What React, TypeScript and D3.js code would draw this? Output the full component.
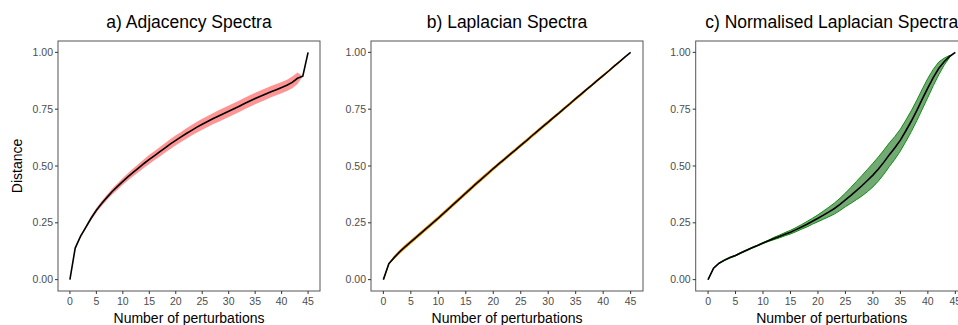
import React from 'react';
import * as d3 from 'd3';

// number of perturbations (x) shared by all three panels
const perturbations = d3.range(0, 46);
const xTicks = [0, 5, 10, 15, 20, 25, 30, 35, 40, 45];
const yTicks = [0, 0.25, 0.5, 0.75, 1];

// a) adjacency spectra: mean distance and half-width of the ribbon
const adjMean = [
  0, 0.139, 0.19, 0.23, 0.27, 0.305, 0.335, 0.362, 0.388, 0.41,
  0.432, 0.453, 0.473, 0.492, 0.511, 0.529, 0.546, 0.563, 0.58, 0.597,
  0.613, 0.628, 0.643, 0.657, 0.671, 0.684, 0.696, 0.708, 0.719, 0.73,
  0.741, 0.752, 0.763, 0.775, 0.786, 0.797, 0.807, 0.817, 0.827, 0.836,
  0.845, 0.855, 0.868, 0.886, 0.895, 1.0,
];
const adjSd = [
  0, 0, 0.005, 0.007, 0.009, 0.01, 0.011, 0.012, 0.013, 0.014,
  0.015, 0.016, 0.017, 0.018, 0.019, 0.02, 0.02, 0.021, 0.021, 0.022,
  0.022, 0.022, 0.023, 0.023, 0.024, 0.024, 0.024, 0.024, 0.025, 0.025,
  0.025, 0.025, 0.025, 0.025, 0.025, 0.025, 0.025, 0.025, 0.025, 0.025,
  0.025, 0.025, 0.026, 0.025, 0,
];

// b) laplacian spectra
const lapMean = [
  0, 0.07, 0.098, 0.123, 0.145, 0.166, 0.187, 0.208, 0.229, 0.25,
  0.271, 0.293, 0.315, 0.337, 0.359, 0.381, 0.403, 0.425, 0.446, 0.467,
  0.488, 0.509, 0.529, 0.55, 0.57, 0.591, 0.611, 0.632, 0.652, 0.673,
  0.693, 0.714, 0.734, 0.755, 0.775, 0.796, 0.816, 0.837, 0.857, 0.878,
  0.898, 0.918, 0.939, 0.959, 0.98, 1.0,
];
const lapSd = [
  0, 0, 0.006, 0.007, 0.007, 0.007, 0.007, 0.007, 0.007, 0.007,
  0.007, 0.007, 0.007, 0.007, 0.007, 0.007, 0.007, 0.007, 0.007, 0.007,
  0.006, 0.006, 0.006, 0.006, 0.006, 0.006, 0.006, 0.006, 0.006, 0.006,
  0.006, 0.005, 0.005, 0.005, 0.005, 0.005, 0.005, 0.004, 0.004, 0.004,
  0.004, 0.003, 0.003, 0.002, 0.001,
];

// c) normalised laplacian spectra
const normMean = [
  0, 0.05, 0.072, 0.086, 0.097, 0.106, 0.118, 0.129, 0.14, 0.15,
  0.161, 0.171, 0.181, 0.19, 0.2, 0.209, 0.22, 0.232, 0.244, 0.257,
  0.27, 0.284, 0.298, 0.313, 0.331, 0.351, 0.371, 0.392, 0.413, 0.436,
  0.46, 0.487, 0.517, 0.55, 0.58, 0.614, 0.655, 0.698, 0.745, 0.795,
  0.844, 0.89, 0.93, 0.96, 0.983, 1.0,
];
const normSd = [
  0, 0.001, 0.001, 0.002, 0.002, 0.002, 0.002, 0.002, 0.002, 0.002,
  0.002, 0.003, 0.005, 0.006, 0.007, 0.008, 0.009, 0.01, 0.012, 0.013,
  0.015, 0.018, 0.021, 0.024, 0.027, 0.03, 0.035, 0.04, 0.045, 0.049,
  0.052, 0.053, 0.053, 0.052, 0.05, 0.048, 0.047, 0.046, 0.045, 0.044,
  0.042, 0.036, 0.028, 0.015, 0.004,
];

const FONT = '"Liberation Sans", Arial, sans-serif';
const TOP = 41;
const BOTTOM = 291;

type Panel = {
  title: string;
  mean: number[];
  sd: number[];
  left: number;
  right: number;
  fill: string;
  fillOpacity: number;
  stroke: string;
  yTitle?: string;
};

const panels: Panel[] = [
  { title: 'a) Adjacency Spectra', mean: adjMean, sd: adjSd, left: 58, right: 320,
    fill: '#ff0000', fillOpacity: 0.42, stroke: 'none', yTitle: 'Distance' },
  { title: 'b) Laplacian Spectra', mean: lapMean, sd: lapSd, left: 371, right: 643,
    fill: '#ffa500', fillOpacity: 0.9, stroke: '#ff9800' },
  { title: 'c) Normalised Laplacian Spectra', mean: normMean, sd: normSd, left: 695.7, right: 967.7,
    fill: '#006400', fillOpacity: 0.55, stroke: '#118c11' },
];

const PanelChart = ({ p }: { p: Panel }) => {
  const x = d3.scaleLinear().domain([-2.25, 47.25]).range([p.left, p.right]);
  const y = d3.scaleLinear().domain([-0.05, 1.05]).range([BOTTOM, TOP]);

  const ribbon = d3.area<number>()
    .x((_, i) => x(perturbations[i]))
    .y0((s, i) => y(p.mean[i] - s))
    .y1((s, i) => y(p.mean[i] + s));

  const line = d3.line<number>()
    .x((_, i) => x(perturbations[i]))
    .y(d => y(d));

  const cx = (p.left + p.right) / 2;
  const cy = (TOP + BOTTOM) / 2;

  return (
    <g>
      <text x={cx} y={28} textAnchor="middle" fontSize={17.5} fill="#000">{p.title}</text>
      <path d={ribbon(p.sd) || ''} fill={p.fill} fillOpacity={p.fillOpacity}
        stroke={p.stroke} strokeWidth={p.stroke === 'none' ? 0 : 1} />
      <path d={line(p.mean) || ''} fill="none" stroke="#000" strokeWidth={1.6} />
      <rect x={p.left} y={TOP} width={p.right - p.left} height={BOTTOM - TOP}
        fill="none" stroke="#555" strokeWidth={1} />
      {xTicks.map(t => (
        <g key={'x' + t}>
          <line x1={x(t)} x2={x(t)} y1={BOTTOM} y2={BOTTOM + 3} stroke="#333" />
          <text x={x(t)} y={305} textAnchor="middle" fontSize={10.5} fill="#4d4d4d">{t}</text>
        </g>
      ))}
      {yTicks.map(t => (
        <g key={'y' + t}>
          <line x1={p.left - 3} x2={p.left} y1={y(t)} y2={y(t)} stroke="#333" />
          <text x={p.left - 5} y={y(t)} dy="0.35em" textAnchor="end" fontSize={10.5} fill="#4d4d4d">
            {d3.format('.2f')(t)}
          </text>
        </g>
      ))}
      <text x={cx} y={323} textAnchor="middle" fontSize={14} fill="#000">Number of perturbations</text>
      {p.yTitle && (
        <text transform={`translate(22,${cy}) rotate(-90)`} textAnchor="middle" fontSize={14} fill="#000">
          {p.yTitle}
        </text>
      )}
    </g>
  );
};

const App = () => (
  <svg width={958} height={325} style={{ position: 'absolute', left: 0, top: 0, background: '#fff' }}
    fontFamily={FONT}>
    <rect width={958} height={325} fill="#fff" />
    {panels.map(p => <PanelChart key={p.title} p={p} />)}
  </svg>
);

export default App;
